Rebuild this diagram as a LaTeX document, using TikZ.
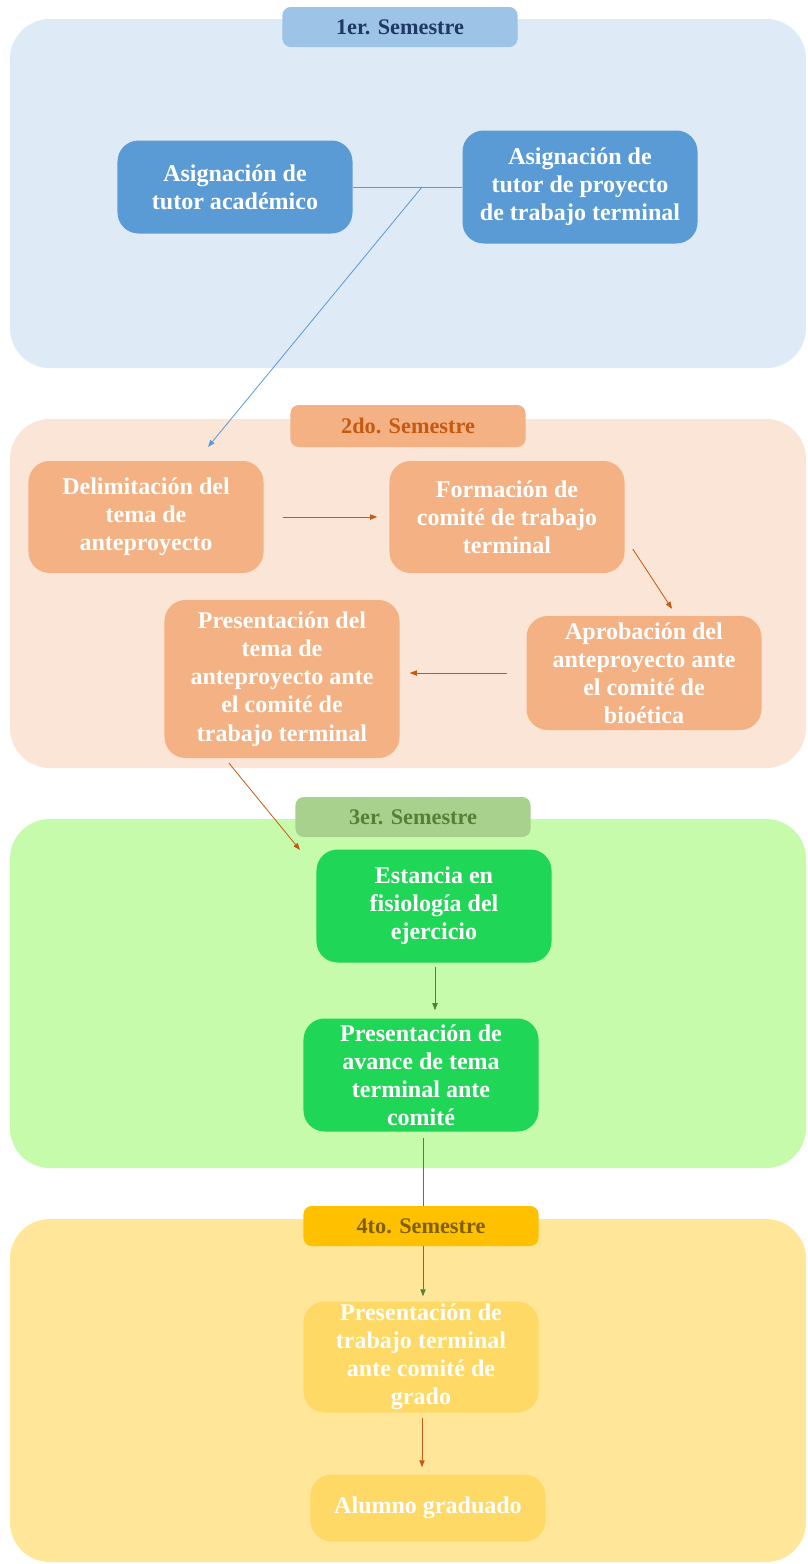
\documentclass[tikz,border=0pt]{standalone}
\usepackage{fontspec}
\setmainfont{Liberation Serif}
\usetikzlibrary{arrows.meta,calc}
\definecolor{blueBg}{HTML}{DEEAF6}
\definecolor{blueHead}{HTML}{9DC3E6}
\definecolor{blueInk}{HTML}{203864}
\definecolor{blueBox}{HTML}{5B9BD5}
\definecolor{peachBg}{HTML}{FBE5D6}
\definecolor{peachBox}{HTML}{F4B183}
\definecolor{rustInk}{HTML}{C55A11}
\definecolor{greenBg}{HTML}{C5FBAA}
\definecolor{greenHead}{HTML}{A9D18E}
\definecolor{greenInk}{HTML}{548235}
\definecolor{greenBox}{HTML}{20D657}
\definecolor{sandBg}{HTML}{FFE699}
\definecolor{sandHead}{HTML}{FFC000}
\definecolor{sandInk}{HTML}{7F6000}
\definecolor{sandBox}{HTML}{FFD966}
\tikzset{
  panel/.style={rounded corners=34pt},
  semhead/.style={rounded corners=7pt, inner sep=0pt, minimum width=7.05cm,
    minimum height=1.2cm, font=\fontsize{19}{22}\selectfont\bfseries},
  stepbox/.style={rounded corners=18pt, inner sep=0pt, align=center, text=white,
    minimum width=7.05cm, font=\fontsize{20.5}{24}\selectfont\bfseries},
  link/.style={-{Triangle[length=6pt,width=4.5pt]}, line width=0.7pt}
}
\begin{document}
\begin{tikzpicture}[x=0.03cm,y=-0.03cm]
  \useasboundingbox (0,0) rectangle (807,1564);
  % semester panels
  \fill[panel, blueBg]  (10,19)   rectangle (806,368);
  \fill[panel, peachBg] (10,419)  rectangle (806,768);
  \fill[panel, greenBg] (10,819)  rectangle (806,1168);
  \fill[panel, sandBg]  (10,1219) rectangle (806,1562);

  % 1er. semestre
  \node[stepbox, fill=blueBox, minimum height=2.79cm] (A1) at (235,187)
       {Asignación de\\tutor académico};
  \node[stepbox, fill=blueBox, minimum height=3.39cm] (A2) at (580,187)
       {Asignación de\\tutor de proyecto\\de trabajo terminal};

  % 2do. semestre
  \node[stepbox, fill=peachBox, minimum height=3.36cm] (B1) at (146,517)
       {Delimitación del\\tema de\\anteproyecto};
  \node[stepbox, fill=peachBox, minimum height=3.36cm] (B2) at (507,517)
       {Formación de\\comité de trabajo\\terminal};
  \node[stepbox, fill=peachBox, minimum height=3.42cm] (B3) at (644,673)
       {Aprobación del\\anteproyecto ante\\el comité de\\bioética};
  \node[stepbox, fill=peachBox, minimum height=4.74cm] (B4) at (282,679)
       {Presentación del\\tema de\\anteproyecto ante\\el comité de\\trabajo terminal};

  % 3er. semestre
  \node[stepbox, fill=greenBox, minimum height=3.39cm] (C1) at (434,906)
       {Estancia en\\fisiología del\\ejercicio};
  \node[stepbox, fill=greenBox, minimum height=3.39cm] (C2) at (421,1075)
       {Presentación de\\avance de tema\\terminal ante\\comité};

  % 4to. semestre
  \node[stepbox, fill=sandBox, minimum height=3.33cm] (D1) at (421,1357)
       {Presentación de\\trabajo terminal\\ante comité de\\grado};
  \node[stepbox, fill=sandBox, minimum height=2.01cm] (D2) at (428,1508)
       {Alumno graduado};

  % connectors
  \coordinate (fork) at (422,187);
  \coordinate (toB1) at (208,447);
  \coordinate (toC1) at (300,850);
  \draw[blueBox, line width=0.7pt] (A1.east) -- (A2.west);
  \draw[link, blueBox] (fork) -- (toB1);
  \draw[link, rustInk] ($(B1.east)+(19,0)$) -- ($(B2.west)+(-12,0)$);
  \draw[link, rustInk] ($(B2.east)+(8,32)$) -- ($(B3.north)+(28,-7)$);
  \draw[link, rustInk] ($(B3.west)+(-19,0)$) -- ($(B4.east |- B3.west)+(10,0)$);
  \draw[link, rustInk] ($(B4.south)+(-53,5)$) -- (toC1);
  \draw[link, greenInk] ($(C1.south)+(1,4)$) -- ($(C1.south |- C2.north)+(1,-8)$);
  \draw[link, greenInk] ($(C2.south)+(2,6)$) -- ($(D1.north)+(2,-5)$);
  \draw[link, rustInk] ($(D1.south)+(1,5)$) -- ($(D2.north)+(-6,-7)$);

  % semester headings
  \node[semhead, fill=blueHead, text=blueInk, minimum height=1.2cm] (T1) at (400,27)
       {1er. Semestre};
  \node[semhead, fill=peachBox, text=rustInk, minimum height=1.26cm] (T2) at (408,426)
       {2do. Semestre};
  \node[semhead, fill=greenHead, text=greenInk] (T3) at (413,817) {3er. Semestre};
  \node[semhead, fill=sandHead, text=sandInk] (T4) at (421,1226) {4to. Semestre};
\end{tikzpicture}
\end{document}
